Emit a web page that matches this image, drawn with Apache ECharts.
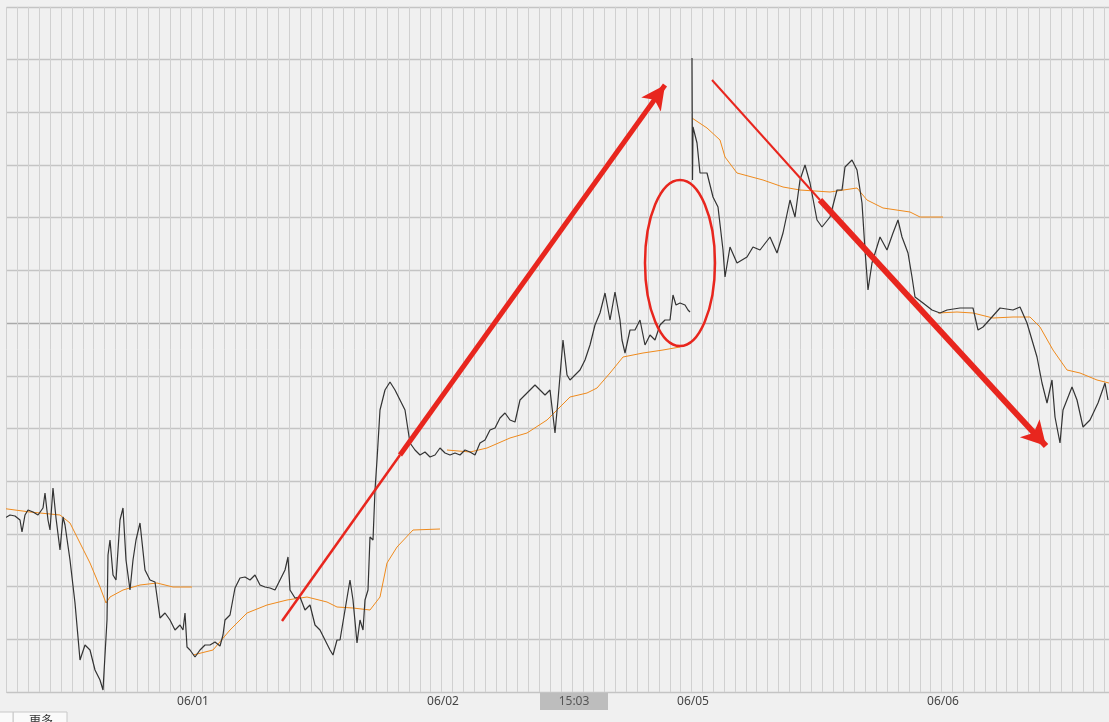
<!DOCTYPE html>
<html><head><meta charset="utf-8">
<script src="https://cdn.jsdelivr.net/npm/echarts@6/dist/echarts.min.js"></script>
<style>html,body{margin:0;padding:0;background:#f0f0f0}#c{width:1109px;height:722px}</style>
</head><body><div id="c"></div>
<script>
// time index (minute slot) and price level (chart units, axis inverted)
const dayLabels = ['06/01','06/02','06/05','06/06'];
const dayTicks = [193,443,693,943];
const crossLabel = '15:03';

const priceT = [0,5,10,15,20,22,25,28,33,38,43,45,48,50,53,56,60,63,65,70,75,80,85,90,95,100,103,107,108,110,113,116,120,123,126,130,133,136,140,145,150,155,160,165,170,175,180,183,185,187,190,195,200,205,210,215,220,223,225,230,235,240,245,250,255,260,265,270,275,280,285,288,290,295,300,305,310,315,320,325,330,333,337,340,345,350,353,357,360,363,365,368,370,373,375,377,380,385,390,395,400,405,410,415,420,425,430,435,440,445,450,455,460,465,470,475,480,485,490,495,500,505,510,515,520,525,530,535,540,545,550,555,558,563,567,570,575,580,585,590,595,600,605,610,615,620,622,625,630,635,640,645,650,655,660,665,670,673,676,680,685,688,690,691,692,692.5,693,697,700,707,713,718,723,725,730,737,747,753,760,770,777,783,790,795,800,805,810,817,822,830,837,842,845,852,857,862,865,868,872,880,887,893,898,902,908,912,915,923,932,940,947,960,973,978,983,992,1000,1013,1020,1027,1032,1037,1042,1047,1052,1055,1060,1063,1072,1077,1083,1090,1098,1105,1108];
const priceV = [517,518,515,516,520,532,515,510,512,515,508,493,520,530,488,518,550,517,525,560,603,660,645,650,670,680,690,620,555,540,575,580,520,508,560,590,560,540,523,570,580,582,618,613,620,630,625,630,613,647,650,657,650,645,645,642,646,635,620,615,588,578,577,580,575,585,587,588,590,580,570,557,590,598,597,610,605,625,630,640,650,655,640,640,610,580,600,643,620,630,600,590,537,540,490,460,410,390,382,390,400,410,443,450,455,452,457,455,448,453,455,453,455,450,452,455,443,440,430,428,418,413,420,422,400,395,390,385,390,395,390,433,400,340,375,380,375,370,360,345,325,313,293,320,292,320,340,353,330,330,320,345,335,340,325,320,320,295,305,303,305,310,312,null,58,180,127,143,173,173,197,207,250,277,247,263,257,247,250,237,253,233,200,217,180,165,183,220,227,217,190,190,167,160,170,203,250,290,263,237,250,233,220,237,253,277,297,303,310,313,310,308,308,330,327,317,308,310,307,323,340,357,383,403,380,417,443,410,387,400,427,420,403,383,400];

const avgT = [0,30,60,70,80,90,100,106,110,123,140,157,173,192,193,193,213,230,247,267,287,307,327,337,353,370,380,387,397,413,440,441,447,470,487,510,527,547,560,570,587,597,610,623,643,663,680,681,692,707,720,725,737,763,783,800,830,857,867,883,910,920,943,944,938,957,973,993,1013,1030,1040,1053,1067,1080,1097,1109];
const avgV = [508,512,515,523,543,563,587,603,597,590,585,583,587,587,null,655,650,630,613,605,600,597,602,607,608,610,597,563,547,530,529,null,450,452,448,438,433,420,407,397,393,388,373,357,353,350,347,null,118,128,140,157,173,180,187,190,192,188,200,208,212,217,217,null,313,312,313,318,317,317,327,350,370,373,380,383];

const zip = (t, v) => t.map((x, i) => [x, v[i]]);
const RED = '#e8261e';
const hColors = ['#c4c4c4','#c4c4c4','#c4c4c4','#c4c4c4','#c4c4c4','#c4c4c4','#a9a9a9','#c4c4c4','#c4c4c4','#c4c4c4','#c4c4c4','#c4c4c4','#c4c4c4','#c4c4c4'];
const solid = (w) => ({color: RED, width: w, type: 'solid', opacity: 1});

const chart = echarts.init(document.getElementById('c'), null, {renderer: 'canvas'});
chart.setOption({
  animation: false,
  backgroundColor: '#f0f0f0',
  grid: {left: 6.7, right: 0, top: 6.9, bottom: 30, show: false},
  xAxis: {
    type: 'value', min: 6.7, max: 1109, interval: 10.87,
    axisLine: {show: true, lineStyle: {color: '#c4c4c4'}},
    axisTick: {show: false},
    axisLabel: {customValues: dayTicks, formatter: v => dayLabels[dayTicks.indexOf(v)] || '', color: '#444', fontSize: 12, fontFamily: 'Noto Sans', margin: 4},
    splitLine: {show: true, lineStyle: {color: '#d0d0d0', width: 1}}
  },
  yAxis: {
    type: 'value', inverse: true, min: 6.9, max: 692, interval: 52.7,
    axisLine: {show: false}, axisTick: {show: false}, axisLabel: {show: false},
    splitLine: {show: true, lineStyle: {color: hColors, width: 1.3}}
  },
  series: [
    {type: 'line', data: zip(avgT, avgV), showSymbol: false, clip: false, connectNulls: false,
     lineStyle: {color: '#ef8a1c', width: 1}, z: 3},
    {type: 'line', data: zip(priceT, priceV), showSymbol: false, clip: false, connectNulls: false,
     lineStyle: {color: '#333333', width: 1.2}, z: 4,
     markLine: {silent: true, symbol: ['none','none'], label: {show: false}, z: 10, lineStyle: {type: 'solid'},
       data: [
         [{coord: [282, 621], symbol: 'none', lineStyle: solid(2.5)}, {coord: [400, 455], symbol: 'none'}],
         [{coord: [400, 455], symbol: 'none', lineStyle: solid(5)}, {coord: [665, 85], symbol: 'arrow', symbolSize: [18, 24]}],
         [{coord: [712, 80], symbol: 'none', lineStyle: solid(2)}, {coord: [820, 200], symbol: 'none'}],
         [{coord: [820, 200], symbol: 'none', lineStyle: solid(6)}, {coord: [1046, 446], symbol: 'arrow', symbolSize: [20, 24]}]
       ]}}
  ],
  graphic: [
    {type: 'ellipse', shape: {cx: 680, cy: 263, rx: 35, ry: 83}, style: {fill: 'none', stroke: RED, lineWidth: 2.5}, z: 100},
    {type: 'rect', shape: {x: 540, y: 693, width: 68, height: 17}, style: {fill: '#bdbdbd'}, z: 100},
    {type: 'text', x: 574, y: 701.5, style: {text: crossLabel, fill: '#555', font: '12px "Noto Sans"', align: 'center', verticalAlign: 'middle'}, z: 101},
    {type: 'rect', shape: {x: 13, y: 712, width: 54, height: 12}, style: {fill: '#fafafa', stroke: '#c8c8c8'}, z: 100},
    {type: 'text', x: 29, y: 714, style: {text: '更多', fill: '#333', font: '12px "Noto Sans CJK SC"'}, z: 101},
    {type: 'rect', shape: {x: -10, y: 712, width: 23, height: 12}, style: {fill: '#fafafa', stroke: '#c8c8c8'}, z: 100}
  ]
});
</script></body></html>
